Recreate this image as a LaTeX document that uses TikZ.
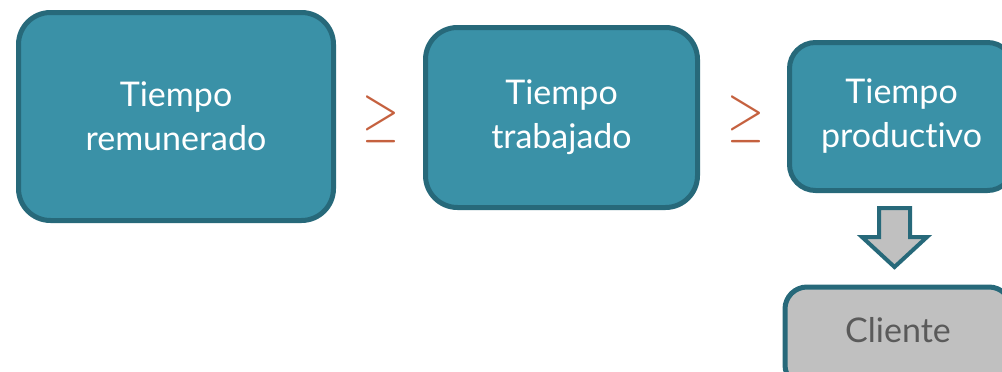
\documentclass[tikz,border=0pt]{standalone}
\usepackage{fontspec}
\setmainfont[Ligatures={NoCommon,NoContextual}]{Lato}
\definecolor{tealfill}{HTML}{3A91A7}
\definecolor{tealline}{HTML}{27697A}
\definecolor{geqcol}{HTML}{C5613F}
\definecolor{greyfill}{HTML}{C0C0C0}
\definecolor{greytext}{HTML}{5A5A5A}
\tikzset{
  tbox/.style={draw=tealline, fill=tealfill, line width=5pt, rounded corners=32pt,
    text=white, align=center, inner sep=0pt,
    font=\fontsize{34}{44}\selectfont},
  gbox/.style={draw=tealline, fill=greyfill, line width=5pt, rounded corners=22pt,
    text=greytext, align=center, inner sep=0pt,
    font=\fontsize{34}{44}\selectfont},
  geqsign/.style={text=geqcol, inner sep=0pt},
}
\begin{document}
\begin{tikzpicture}[x=1pt,y=-1pt]
\useasboundingbox (0,0) rectangle (1002,372);
\clip (0,0) rectangle (1002,372);
\node[tbox, minimum width=315pt, minimum height=208pt] (b1) at (176,116.5) {Tiempo\\remunerado};
\node[tbox, minimum width=272pt, minimum height=180pt] (b2) at (561.5,117.5) {Tiempo\\trabajado};
\node[tbox, minimum width=224pt, minimum height=148pt, rounded corners=26pt] (b3) at (901.5,116.5) {Tiempo\\productivo};
\node[geqsign] (g1) at (380.5,119.5) {\resizebox*{37pt}{47pt}{$\geq$}};
\node[geqsign] (g2) at (745.5,119.5) {\resizebox*{37pt}{47pt}{$\geq$}};
\node[gbox, minimum width=226pt, minimum height=100pt, anchor=north] (c) at (898,284.5) {};
\node[text=greytext, font=\fontsize{34}{44}\selectfont] (ct) at (898,330) {Cliente};
\draw[tealline, fill=greyfill, line width=4pt]
  (879,208) -- (910,208) -- (910,237) -- (927,237) -- (894.5,267) -- (862,237) -- (879,237) -- cycle;
\end{tikzpicture}
\end{document}
